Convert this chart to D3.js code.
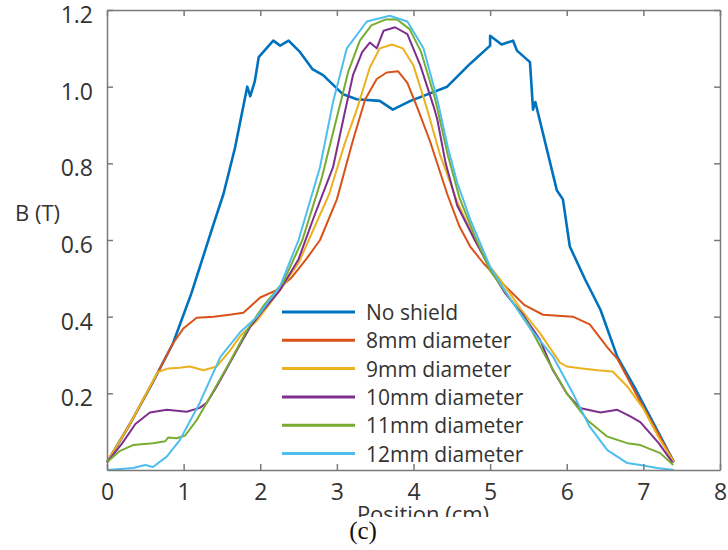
<!DOCTYPE html>
<meta charset="utf-8">

<!-- Load d3.js -->
<script src="https://d3js.org/d3.v7.min.js"></script>

<style>
  body { margin: 0; background: #fff; }
  text { font-family: "Open Sans", sans-serif; fill: #333; }
</style>

<!-- Create a div where the graph will take place -->
<div id="my_dataviz"></div>

<script>

// data: [position (cm), B (T)]
var noShield = [[0,0.02],[0.3,0.12],[0.6,0.23],[0.86,0.33],[1.1,0.46],[1.38,0.635],[1.52,0.72],[1.67,0.84],[1.83,1.0],[1.87,0.975],[1.93,1.015],[1.98,1.077],[2.17,1.12],[2.26,1.107],[2.37,1.12],[2.52,1.09],[2.68,1.046],[2.82,1.03],[3.08,0.98],[3.26,0.967],[3.56,0.963],[3.73,0.94],[3.96,0.963],[4.44,1.0],[4.74,1.06],[5.0,1.107],[5.0,1.133],[5.15,1.11],[5.3,1.12],[5.35,1.094],[5.52,1.064],[5.56,0.94],[5.59,0.96],[5.87,0.73],[5.95,0.706],[6.04,0.583],[6.24,0.497],[6.44,0.418],[6.66,0.295],[6.9,0.21],[7.15,0.115],[7.4,0.02]];
var d8mm = [[0,0.02],[0.3,0.12],[0.6,0.23],[0.86,0.33],[1.0,0.37],[1.17,0.397],[1.39,0.40],[1.6,0.405],[1.78,0.41],[2.0,0.45],[2.22,0.47],[2.4,0.5],[2.6,0.55],[2.78,0.60],[3.0,0.706],[3.21,0.86],[3.37,0.967],[3.52,1.02],[3.65,1.037],[3.8,1.04],[3.92,1.01],[4.06,0.94],[4.22,0.855],[4.44,0.72],[4.6,0.635],[4.74,0.583],[4.91,0.54],[5.22,0.475],[5.45,0.43],[5.69,0.405],[6.08,0.40],[6.3,0.38],[6.53,0.32],[6.66,0.29],[6.9,0.2],[7.15,0.11],[7.4,0.02]];
var d9mm = [[0,0.02],[0.3,0.12],[0.66,0.255],[0.8,0.265],[0.95,0.267],[1.08,0.27],[1.26,0.26],[1.43,0.27],[1.6,0.31],[1.74,0.35],[1.96,0.39],[2.26,0.47],[2.5,0.54],[2.7,0.63],[2.9,0.72],[3.1,0.85],[3.26,0.94],[3.43,1.05],[3.56,1.10],[3.72,1.11],[3.86,1.10],[4.0,1.055],[4.18,0.94],[4.35,0.82],[4.57,0.7],[4.8,0.6],[5.0,0.53],[5.13,0.497],[5.4,0.42],[5.65,0.357],[5.91,0.28],[6.0,0.27],[6.2,0.265],[6.4,0.26],[6.6,0.257],[6.79,0.218],[7.0,0.16],[7.2,0.085],[7.4,0.02]];
var d10mm = [[0,0.02],[0.2,0.07],[0.37,0.12],[0.56,0.15],[0.78,0.157],[1.04,0.152],[1.21,0.162],[1.3,0.175],[1.43,0.217],[1.7,0.314],[1.87,0.374],[2.05,0.42],[2.26,0.47],[2.5,0.55],[2.7,0.66],[2.95,0.79],[3.1,0.93],[3.21,1.03],[3.33,1.09],[3.43,1.115],[3.52,1.10],[3.61,1.146],[3.76,1.155],[3.92,1.137],[4.09,1.055],[4.26,0.95],[4.31,0.915],[4.42,0.8],[4.57,0.69],[4.8,0.6],[5.0,0.525],[5.2,0.46],[5.43,0.405],[5.65,0.34],[5.82,0.26],[6.0,0.2],[6.17,0.162],[6.44,0.15],[6.66,0.157],[6.83,0.14],[6.96,0.125],[7.2,0.07],[7.38,0.02]];
var d11mm = [[0,0.02],[0.17,0.05],[0.34,0.065],[0.6,0.07],[0.76,0.075],[0.8,0.085],[0.91,0.083],[1.02,0.09],[1.17,0.13],[1.3,0.175],[1.57,0.27],[1.83,0.366],[2.05,0.43],[2.3,0.49],[2.55,0.6],[2.8,0.76],[3.0,0.92],[3.15,1.04],[3.3,1.12],[3.45,1.16],[3.63,1.175],[3.78,1.176],[3.95,1.15],[4.1,1.09],[4.28,0.97],[4.45,0.82],[4.6,0.71],[4.8,0.61],[5.0,0.52],[5.25,0.45],[5.5,0.38],[5.74,0.29],[6.0,0.2],[6.27,0.13],[6.53,0.087],[6.79,0.07],[6.96,0.065],[7.22,0.044],[7.39,0.013]];
var d12mm = [[0,0.0],[0.34,0.005],[0.5,0.013],[0.6,0.008],[0.78,0.035],[0.95,0.078],[1.21,0.175],[1.48,0.295],[1.74,0.36],[1.96,0.40],[2.26,0.48],[2.5,0.6],[2.78,0.79],[2.95,0.96],[3.13,1.1],[3.39,1.17],[3.69,1.185],[3.92,1.17],[4.13,1.10],[4.31,0.967],[4.45,0.84],[4.57,0.75],[4.74,0.654],[5.0,0.53],[5.25,0.45],[5.52,0.37],[5.82,0.296],[6.08,0.2],[6.3,0.113],[6.53,0.052],[6.79,0.018],[6.96,0.013],[7.18,0.005],[7.4,0.0]];

var seriesNames = ["No shield", "8mm diameter", "9mm diameter", "10mm diameter", "11mm diameter", "12mm diameter"];
var seriesData = [noShield, d8mm, d9mm, d10mm, d11mm, d12mm];
var seriesColors = ["#0072BD", "#D95319", "#EDB120", "#7E2F8E", "#77AC30", "#4DBEEE"];

var xTicks = [0, 1, 2, 3, 4, 5, 6, 7, 8];
var yTicks = [0.2, 0.4, 0.6, 0.8, 1.0, 1.2];

// set the dimensions and margins of the graph
var margin = {top: 10, right: 8, bottom: 80, left: 107},
    width = 728 - margin.left - margin.right,
    height = 550 - margin.top - margin.bottom;

var root = d3.select("#my_dataviz")
  .append("svg")
    .attr("width", 728)
    .attr("height", 550);

var svg = root.append("g")
    .attr("transform", "translate(" + margin.left + "," + margin.top + ")");

var x = d3.scaleLinear().domain([0, 8]).range([0, width]);
var y = d3.scaleLinear().domain([0, 1.2]).range([height, 0]);

// lines first, box on top
var line = d3.line()
  .x(function(d) { return x(d[0]) })
  .y(function(d) { return y(d[1]) });

seriesData.forEach(function(s, i) {
  svg.append("path")
    .datum(s)
    .attr("d", line)
    .attr("fill", "none")
    .attr("stroke", seriesColors[i])
    .attr("stroke-width", i == 0 ? 2.6 : 2)
    .attr("stroke-linejoin", "round");
});

// axes (ticks pointing inwards, on all four sides)
var axisColor = "#7a7a7a";
function styleAxis(g) {
  g.select(".domain").attr("stroke", axisColor).attr("stroke-width", 1.5);
  g.selectAll(".tick line").attr("stroke", axisColor).attr("stroke-width", 1.5);
  g.selectAll(".tick text").style("font-family", "'Open Sans', sans-serif").style("font-size", "23px").attr("fill", "#333");
}

svg.append("g")
  .attr("transform", "translate(0," + height + ")")
  .call(d3.axisBottom(x).tickValues(xTicks).tickSizeInner(-6).tickSizeOuter(0).tickPadding(14))
  .call(styleAxis);

svg.append("g")
  .call(d3.axisTop(x).tickValues(xTicks).tickSizeInner(-6).tickSizeOuter(0).tickFormat(""))
  .call(styleAxis);

// y tick labels sit a few px below their ticks in the original
svg.append("g")
  .call(d3.axisLeft(y).tickValues(yTicks).tickSizeInner(-6).tickSizeOuter(0).tickPadding(14).tickFormat(d3.format(".1f")))
  .call(styleAxis)
  .selectAll(".tick text").attr("y", 5);

svg.append("g")
  .attr("transform", "translate(" + width + ",0)")
  .call(d3.axisRight(y).tickValues(yTicks).tickSizeInner(-6).tickSizeOuter(0).tickFormat(""))
  .call(styleAxis);

// y label
root.append("text")
  .attr("x", 15)
  .attr("y", 221)
  .style("font-size", "22px")
  .text("B (T)");

// x label, its lower part is cut off in the original
root.append("clipPath")
  .attr("id", "xlabClip")
  .append("rect")
    .attr("x", 300).attr("y", 490).attr("width", 250).attr("height", 27);

root.append("text")
  .attr("clip-path", "url(#xlabClip)")
  .attr("x", 423)
  .attr("y", 522)
  .attr("text-anchor", "middle")
  .style("font-size", "22px")
  .text("Position (cm)");

root.append("text")
  .attr("x", 363)
  .attr("y", 539)
  .attr("text-anchor", "middle")
  .style("font-family", "'Liberation Serif', serif")
  .style("font-size", "25px")
  .style("fill", "#111")
  .text("(c)");

// legend
var legend = root.append("g");
seriesNames.forEach(function(name, i) {
  var ly = 312 + i * 28.3;
  legend.append("line")
    .attr("x1", 282).attr("x2", 355)
    .attr("y1", ly).attr("y2", ly)
    .attr("stroke", seriesColors[i])
    .attr("stroke-width", 3);
  legend.append("text")
    .attr("x", 366)
    .attr("y", ly + 8)
    .style("font-size", "21px")
    .text(name);
});

</script>
